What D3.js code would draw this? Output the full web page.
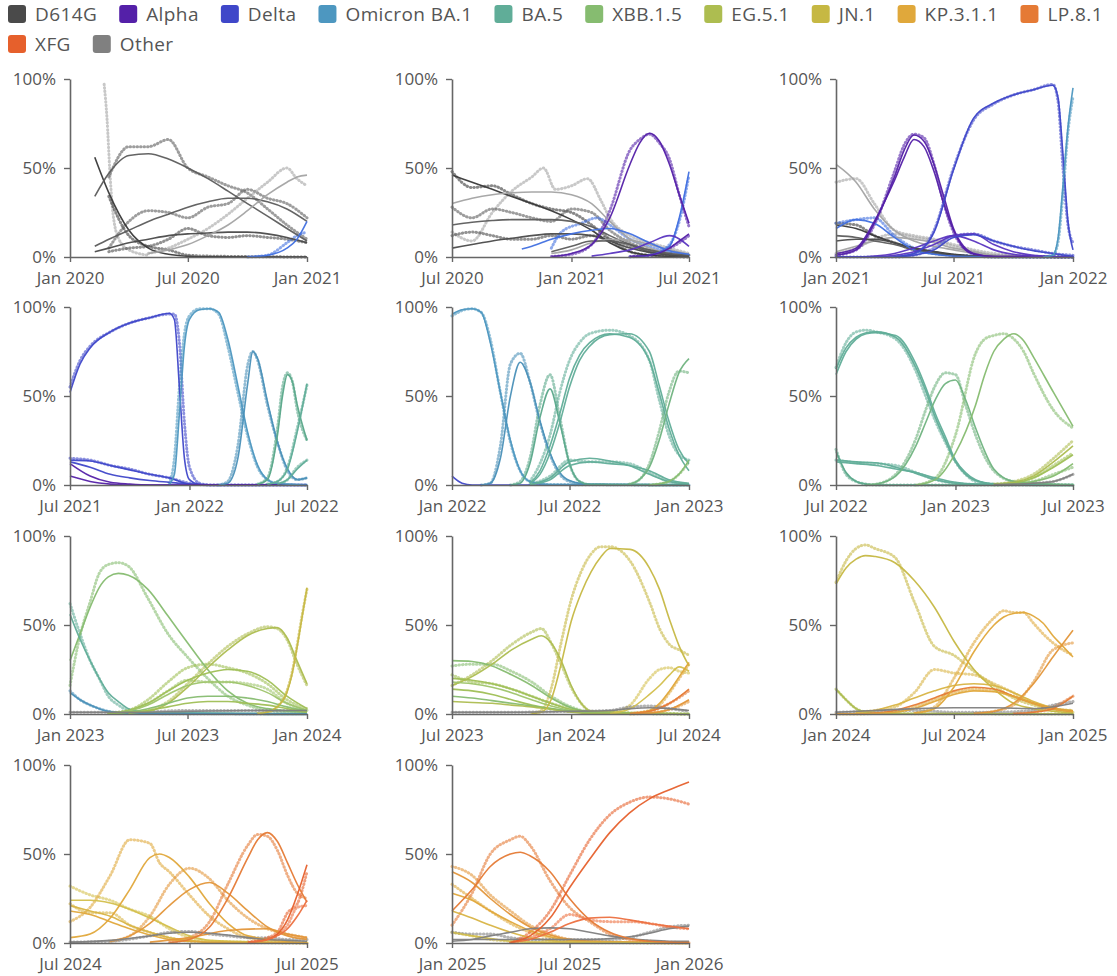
<!DOCTYPE html>
<html><head><meta charset="utf-8">
<script src="https://cdn.jsdelivr.net/npm/d3@7"></script>
<style>
body{margin:0;background:#fff}
svg{display:block}
text{font-family:"Open Sans",sans-serif}
</style>
</head><body>
<svg id="chart" width="1117" height="976"></svg>
<script>
// ---------- legend categories ----------
const lineages = ["D614G","Alpha","Delta","Omicron BA.1","BA.5","XBB.1.5","EG.5.1","JN.1","KP.3.1.1","LP.8.1","XFG","Other"];
const lineageColors = ["#4a4a4a","#5420a8","#3f47c9","#4d97c0","#60ad98","#86bc70","#adbd50","#c6b843","#e0a83b","#e57a35","#e6602c","#808080"];
// sub-lineage shades (same families, slightly different tones)
const shadeNames  = ["D614G-d","Other-d","Other-l","Delta-b","Alpha-b","BA.2","BA.5-g","BQ","XBB-l","EG-b","JN-b","KP.2","XEC","NB"];
const shadeColors = ["#383838","#5c5c5c","#a3a3a3","#4170e0","#5a35c0","#4a90b8","#5aa88a","#70b37f","#9ec46a","#9fbf55","#d3bf4c","#d8b445","#e3963a","#ec7040"];

// ---------- panels (start month, each spans 12 months) ----------
const panelStarts = ["2020-01","2020-07","2021-01","2021-07","2022-01","2022-07","2023-01","2023-07","2024-01","2024-07","2025-01"];
const yTicks = [0, 50, 100];

// series: c = colour key, t = months from panel start (number = first month, step 1),
// f = fitted share (%), o = observed share (%), to = months for o if different
const panel1 = [
  {c:"Other-l", t:[1.75,1.9,2.05,2.2,2.5,3,4], f:null, o:[97,78,48,25,10,4,1]},
  {c:"D614G-d", t:[1.25,2,3,4,5,6,7,12], f:[56,36,15,5,1.5,0.4,0.1,0], o:[null,34,12,6,4,1,0.5,0]},
  {c:"Other-d", t:[1.25,2,3,4,5,6,7,8,9,10,11,12], f:[34,47,57,58,55,50,44,37,30,23,16,9], o:[null,45,62,62,66,50,45,40,36,27,18,10]},
  {c:"Other-d", t:[1.25,2,3,4,5,6,7,8,9,10,11,12], f:[6,10,15,20,24,28,31,33,33,31,27,20], o:[null,5,20,26,25,22,28,30,38,33,30,22]},
  {c:"D614G", t:[1.25,2,3,4,5,6,7,8,9,10,11,12], f:[3,5,8,10,12,13,13.5,14,14,13,11,8], o:[null,3,5,6,10,16,12,11,12,11,10,8]},
  {c:"Other-l", t:[4,5,6,7,8,9,10,11,11.5,12], f:[2,4,7,12,18,26,35,42,45,46], o:[2,5,10,16,24,33,42,50,44,40]},
  {c:"Delta-b", t:[9,10,11,11.5,12], f:[0,1,5,10,20], o:[0,1,8,12,14]}
];
const panel2 = [
  {c:"D614G-d", t:0, f:[46,42,38,34,30,26,21,15,8,3,1,0.3,0], o:[48,39,40,35,30,27,25,18,10,3,1,0.3,0]},
  {c:"Other-l", t:0, f:[30,33,35,36,36.5,36.5,35,30,20,10,5,2,1], to:[0,1,2,3,4,4.6,5.2,6,6.8,7.5,8,9,10,11,12], o:[14,9,25,37,45,50,38,40,44,32,22,12,8,5,2]},
  {c:"Other-d", t:0, f:[18,19.5,20.5,21,21,21,20,17,12,7,3,1.5,0.5], o:[28,22,27,25,22,20,27,25,15,8,4,2,1]},
  {c:"D614G", t:0, f:[5,7,9,10.5,12,13,13,12,9,5,2.5,1,0.5], o:[12,14,12,10,10,12,10,12,10,6,3,2,1]},
  {c:"Other-l", t:[5,6,7,8,9,10,11,12], f:[2,4,8,10,9.5,7,4,1.5]},
  {c:"Other-d", t:[5,6,7,8,9,10,11,12], f:[3,6,9,9,7,4,2,1]},
  {c:"Delta-b", t:[3.5,4,5,6,7,8,9,10,11,12], f:[4.5,6,10,13,15,16,13,8,3.5,1.5], to:[5,5.5,6.5,7.3,8,9,10,11,12], o:[5,14,19,22,18,10,6,3,1]},
  {c:"Delta-b", t:[9,10,11,11.5,12], f:[0,1,6,22,48], o:[0,1,7,20,46]},
  {c:"Alpha", t:[5,6,7,8,9,9.5,10,10.5,11,11.5,12], f:[0.3,2,7,22,52,64,69.5,65,52,35,19], o:[0.3,1.5,7,26,60,66,69,64,55,35,17]},
  {c:"Alpha-b", t:[7,8,9,10,11,12], f:[0.5,2,4,8,12,6]},
  {c:"Alpha", t:[9,10,11,11.5,12], f:[0.3,1,5,9,13], o:[0.3,1,5,8,12]}
];
const panel3 = [
  {c:"Other-l", t:0, f:[52,42,27,15,9,6,4,2,1,0.5,0.2,0,0], o:[42,44,30,15,12,10,7,4,2,1,0.5,0,0]},
  {c:"Other-l", t:0, f:[3,6,9,11,10,8,5,3,1,0.5,0.2,0,0], o:[2,5,10,13,11,9,6,3,1,0.5,0,0,0]},
  {c:"D614G-d", t:0, f:[18,16,12,8,5,3,1.5,0.5,0.2,0,0,0,0], o:[19,18,12,8,4,2,1,0.5,0,0,0,0,0]},
  {c:"Other-d", t:0, f:[12,11,9,7,4,2,1,0.5,0,0,0,0,0]},
  {c:"D614G", t:0, f:[9,10,10,8,5,3,1,0.5,0,0,0,0,0]},
  {c:"Delta-b", t:0, f:[16,21,19,11,4,1.5,0.5,0.2,0,0,0,0,0], o:[19,21,22,12,5,2,1,0.5,0,0,0,0,0]},
  {c:"Alpha", t:[0,1,2,3,3.5,4,4.5,5,5.5,6,6.5,7,8,12], f:[2,5,20,43,56,66,62,48,30,15,5,1.5,0.3,0], o:[1,4,18,48,63,69,67,52,30,14,5,2,0.5,0]},
  {c:"Alpha", t:[0,1,2,3,3.5,4,4.5,5,5.5,6,6.5,7,8,12], f:[1,4,19,45,60,68.5,65,52,34,16,6,2,0.3,0]},
  {c:"Alpha-b", t:0, f:[0,0,0.5,2,5,9,12,9,4,1.5,0.5,0,0]},
  {c:"Alpha-b", t:0, f:[0,0,0,1,3,7,12,13,7,3,1,0.3,0]},
  {c:"Delta", t:0, f:[0,0,0,0,1,4,11,12.5,9,6,3.5,2,0.3], o:[0,0,0,0,1,5,12,13,9,6,4,2,1]},
  {c:"Delta", t:[3,4,5,6,7,8,9,10,11,11.25,11.5,11.75,12], f:[0.3,2,14,49,78,86.5,91,94,96.5,90,58,20,4], o:[0.3,2,15,50,77,86,91,94,97,88,50,18,8]},
  {c:"Omicron BA.1", t:[10.5,11,11.25,11.5,11.75,12], f:[0,1,10,40,73,95], o:[0,1,8,35,70,90]}
];
const panel4 = [
  {c:"Delta", t:[0,0.5,1,2,3,4,5,5.25,5.5,5.75,6,6.5,7,12], f:[52,68,77,86,91,94,96.5,93,55,15,3,0.3,0,0], o:[55,70,78,86,91,94,96,96,80,35,10,1,0,0]},
  {c:"Delta", t:0, f:[14,13.5,11,8.5,6,4,0.5,0,0,0,0,0,0], o:[15,14,11,9,6,4,1,0,0,0,0,0,0]},
  {c:"Delta", t:0, f:[13,10,6,4,2.5,1.5,0.5,0,0,0,0,0,0]},
  {c:"Alpha", t:[0,1,2,3,4,12], f:[12,5,1.5,0.5,0,0]},
  {c:"Alpha", t:[0,1,2,3,12], f:[5,2,0.5,0,0]},
  {c:"Omicron BA.1", t:[5,5.25,5.5,5.75,6,6.5,7,7.5,8,8.5,9,9.5,10,10.5,12], f:[0.5,6,40,78,93,98.5,99,97,82,56,29,11,3,0.8,0], o:[1,15,55,85,95,99,99,96,78,52,27,10,3,0.8,0]},
  {c:"BA.2", t:[7.5,8,8.5,9,9.25,9.5,10,10.5,11,11.5,12], f:[0,1,15,58,75,71,47,24,9,3,4], o:[0,2,22,68,75,70,45,24,8,3,4]},
  {c:"BA.5-g", t:[9.5,10,10.5,10.75,11,11.25,11.5,12], f:[0.5,3,28,50,62,58,45,25], o:[0.5,4,32,55,63,58,42,25]},
  {c:"BA.5", t:[10,10.5,11,11.5,12], f:[0.5,2,9,30,57], o:[0.5,2,10,32,56]},
  {c:"BA.5", t:[10.5,11,11.5,12], f:[0.5,3,9,14], o:[0.5,3,10,14]}
];
const panel5 = [
  {c:"Delta", t:[0,0.5,1,12], f:[5,1,0,0]},
  {c:"Omicron BA.1", t:[0,0.5,1,1.5,2,2.5,3,3.5,4,5,12], f:[96,98.5,99,97,80,52,25,8,2,0.3,0], o:[95,98,99,97,82,52,24,8,2,0.3,0]},
  {c:"BA.2", t:[1.5,2,2.5,3,3.5,4,4.5,5,5.5,6,7,12], f:[0,1,15,50,69,58,36,18,7,2.5,0.3,0], o:[0,1,22,68,74,58,35,17,6,2,0.3,0]},
  {c:"BA.5-g", t:[3,3.5,4,4.5,5,5.5,6,6.5,7,12], f:[0,1,12,38,54,35,12,2,0.3,0], o:[0,2,15,45,62,38,12,2,0.3,0]},
  {c:"BA.5", t:[4,4.5,5,5.5,6,6.5,7,8,9,10,10.5,11,11.5,12], f:[1,8,22,40,60,73,80,85,83,70,52,32,17,8], o:[2,12,28,52,70,80,85,87,84,70,48,28,17,14]},
  {c:"BA.5", t:[4,4.5,5,5.5,6,6.5,7,8,9,10,10.5,11,11.5,12], f:[1,6,18,35,55,70,78,84.5,85,75,56,36,20,12]},
  {c:"BA.5", t:[4,5,6,7,8,9,10,11,12], f:[0.3,4,13,15,13.5,11,6,2,0.5], o:[0.3,5,14,13,13,12,7,2,0.5]},
  {c:"BA.5", t:[4,5,6,7,8,9,10,11,12], f:[0.2,3,11,13,12,11,8,3,1]},
  {c:"BQ", t:[9,9.5,10,10.5,11,11.5,12], f:[0.5,3,10,25,45,63,71], o:[0.5,3,12,30,52,64,63]},
  {c:"XBB.1.5", t:[10,11,11.5,12], f:[0,2,6,14], o:[0,2,6,13]}
];
const panel6 = [
  {c:"BA.5", t:[0,0.5,1,1.5,2,3,4,4.5,5,5.5,6,6.5,7,8,12], f:[65,77,83,85.5,86,83,66,53,38,25,13,6,2.5,0.5,0], o:[66,80,86,87,86,82,64,50,36,24,13,6,2,0.5,0]},
  {c:"BA.5", t:[0,0.5,1,1.5,2,3,4,4.5,5,5.5,6,6.5,7,8,12], f:[62,75,82,85,85.5,84,68,55,40,27,14,7,3,0.7,0]},
  {c:"BA.5-g", t:[0,0.5,1,1.5,2,12], f:[19,7,2,0.5,0,0], o:[20,6,2,0.5,0,0]},
  {c:"BA.5", t:[0,1,2,3,4,5,6,7,12], f:[14,13,12.5,10,6.5,3,1,0.3,0], o:[14,12.5,12,11,7,3,1,0.3,0]},
  {c:"BA.5", t:[0,1,2,3,4,5,6,7,12], f:[13,12,11,9,7,4,1.5,0.5,0]},
  {c:"BQ", t:[1.5,2,3,4,4.5,5,5.5,6,6.5,7,7.5,8,9,12], f:[0,0.5,5,22,35,48,57,59,48,32,19,9,2,0], o:[0,0.5,6,26,42,56,63,62,45,28,16,8,2,0]},
  {c:"XBB.1.5", t:[4,5,6,7,7.5,8,8.5,9,9.5,10,11,12], f:[0,3,18,45,62,75,82,85,81,72,52,33], o:[0,4,28,74,82,84,85,82,75,63,42,32]},
  {c:"EG.5.1", t:[8,9,10,11,12], f:[0.5,1.5,5,13,22], o:[0.5,2,6,15,25]},
  {c:"EG-b", t:[8,9,10,11,12], f:[0.3,1,4,10,17], o:[0.3,1,4,11,18]},
  {c:"XBB.1.5", t:[8,9,10,11,12], f:[0,0.5,2,5,12], o:[0,0.5,2,6,10]},
  {c:"Other", t:[8,9,10,11,12], f:[0.3,0.5,1,2,6], o:[0.3,0.5,1,2,6]}
];
const panel7 = [
  {c:"XBB.1.5", t:[0,0.5,1,1.5,2,2.5,3,4,5,6,7,8,9,10,12], f:[30,45,60,71,77,79,78,70,55,40,25,13,6,3,1], o:[16,44,63,79,84,85,83,65,45,32,20,10,5,2,0.5]},
  {c:"BA.5", t:[0,0.5,1,1.5,2,2.5,3,4,12], f:[56,42,30,20,12,7,3,0.8,0], o:[62,45,30,20,10,5,2,0.5,0]},
  {c:"BA.2", t:[0,0.5,1,1.5,2,3,12], f:[12,8,5,3,1.5,0.3,0], o:[13,8,5,3,1.5,0.3,0]},
  {c:"EG.5.1", t:[3,4,5,6,7,8,9,10,10.5,11,11.5,12], f:[0.5,1.5,6,15,26,36,44,48,48.5,43,30,17], o:[0.5,2,7,17,28,38,45,49,48,42,28,16]},
  {c:"EG-b", t:[2,3,4,5,6,7,8,9,10,11,12], f:[0.5,2,6,13,19,23,25,24,19,10,3], o:[0.5,2,8,18,26,28,26,23,17,8,3]},
  {c:"XBB-l", t:[2,3,4,5,6,7,8,9,10,11,12], f:[0.3,1.5,5,11,16,18,18,16,12,6,2], o:[0.3,2,6,13,19,18,18,17,14,6,2]},
  {c:"XBB.1.5", t:[2,3,4,5,6,7,8,9,10,11,12], f:[0.2,1,3,6,9,10,10,9,7,4,1.5]},
  {c:"EG-b", t:[2,3,4,5,6,7,8,9,10,11,12], f:[0.5,1,2,4,6,7,7,6,5,3,1]},
  {c:"JN.1", t:[9.5,10,10.5,11,11.25,11.5,11.75,12], f:[0.3,1,4,12,22,37,54,71], o:[0.3,1,4,13,23,38,55,70]},
  {c:"Other", t:[0,3,6,9,12], f:[1,1,1.5,2,2], o:[1,1,2,2,2]}
];
const panel8 = [
  {c:"XBB.1.5", t:[0,1,2,3,4,5,6,7,12], f:[30,29.5,27,22,16,9,3.5,1,0], o:[27,28,28,24,18,10,4,1,0]},
  {c:"EG-b", t:[0,1,2,3,4,5,6,7,12], f:[20,19,17,14,10,6,2.5,1,0], o:[22,18,17,14,10,6,3,1,0]},
  {c:"EG.5.1", t:[0,1,2,3,4,4.5,5,5.5,6,6.5,7,12], f:[16,21,28,36,42,44,40,30,16,6,1.5,0], o:[16,22,30,39,46,48,40,28,15,6,1.5,0]},
  {c:"XBB-l", t:[0,1,2,3,4,5,6,7,12], f:[18,17,15,12,8,4.5,2,0.5,0]},
  {c:"EG-b", t:[0,1,2,3,4,5,6,7,12], f:[14,13,11,8,5,3,1.5,0.5,0]},
  {c:"XBB.1.5", t:[0,1,2,3,4,5,6,7,12], f:[10,9,7.5,6,4.5,3,1.5,0.5,0]},
  {c:"EG.5.1", t:[0,1,2,3,4,5,6,7,12], f:[7,6.5,6,5,4,2.5,1,0.3,0]},
  {c:"JN.1", t:[4,4.5,5,5.5,6,6.5,7,7.5,8,9,10,10.5,11,11.5,12], f:[0.3,1,8,28,52,68,80,88,93,92.5,82,70,53,38,27], o:[0.3,2,14,40,64,80,90,94,94,86,63,48,39,36,33]},
  {c:"JN-b", t:[8,9,10,10.5,11,11.5,12], f:[0.3,3,11,16,22,26.5,24], o:[0.5,5,20,25,26,24,23]},
  {c:"KP.3.1.1", t:[9,10,10.5,11,11.5,12], f:[0.3,2,6,13,21,29], o:[0.3,2,5,12,20,28]},
  {c:"LP.8.1", t:[9,10,11,12], f:[0.3,1.5,6,14], o:[0.3,1.5,6,13]},
  {c:"XEC", t:[9,10,11,12], f:[0,0.5,2.5,8], o:[0,0.5,2.5,7]},
  {c:"Other", t:[0,3,6,8,9,10,11,12], f:[1,1,1.5,2,3,3.5,3,2], o:[1,1,1.5,2,4,4.5,3,1.5]}
];
const panel9 = [
  {c:"JN.1", t:[0,0.5,1,1.5,2,3,4,5,6,7,8,9,10,11,12], f:[73,82,87,89,88.5,85,75,60,41,25,14,6,3,1.5,0.5], o:[74,86,93,95,93,88,63,38,33,24,16,9,5,2,1]},
  {c:"EG.5.1", t:[0,0.5,1,1.5,2,12], f:[14,8,3,1,0.3,0], o:[14,8,3,1,0.3,0]},
  {c:"KP.2", t:[1,2,3,4,5,6,7,8,9,10,11,12], f:[1,2,5,9,13,16,17,16,12,7,3.5,2], o:[1,2,4,12,25,23,22,17,12,6,3,2]},
  {c:"LP.8.1", t:0, f:[0,0,0.5,2,5,9,13,15,14,10,6,3,1.5]},
  {c:"KP.3.1.1", t:0, f:[0,0,0.3,1,3,7,11,13,12.5,10,6,3,1.5], o:[0,0,0.3,1,4,8,12,14,13,10,6,3,1.5]},
  {c:"KP.3.1.1", t:[4,5,6,7,8,8.5,9,9.5,10,10.5,11,11.5,12], f:[0.5,3,15,35,50,54.5,56.5,57,55,51,44,38,32], o:[0.5,4,20,40,54,58,57,57,51,45,40,36,33]},
  {c:"XEC", t:[7,8,9,10,11,12], f:[0.3,1.5,6,17,32,47], o:[0.3,1.5,5,18,36,40]},
  {c:"LP.8.1", t:[9,10,11,12], f:[0.2,1,3,10], o:[0.2,1,4,10]},
  {c:"Other", t:[0,2,4,6,8,10,11,12], f:[1,2,3,3.5,3.5,3,4,6], o:[1,1.5,2,1,1,2,5,7]}
];
const panel10 = [
  {c:"JN-b", t:[0,1,2,3,4,5,6,7,12], f:[24,24,22.5,19,14,9,4,1.5,0], o:[32,27,24,19,15,8,3,1,0]},
  {c:"KP.2", t:[0,1,2,3,4,5,6,7,12], f:[21,18,15,10,6,3,1.5,0.5,0], o:[22,17,17,10,6,3,1,0.5,0]},
  {c:"KP.3.1.1", t:[0,1,2,3,4,5,6,7,12], f:[18,16,12,8,4.5,2,1,0.3,0]},
  {c:"KP.3.1.1", t:[0,1,2,3,4,4.5,5,6,7,8,9,12], f:[3,5,14,30,48,50,48,37,22,11,4,0], o:[12,20,38,58,56,45,40,27,15,8,3,0]},
  {c:"XEC", t:[2,3,4,5,6,7,8,9,10,11,12], f:[1,4,11,21,30,34,28,18,9,4,2], o:[1,4,15,33,42,36,24,14,8,5,3]},
  {c:"XEC", t:[4,6,8,10,11,12], f:[0.5,3,7,8,5,3]},
  {c:"Other", t:[0,2,4,5,6,7,8,9,10,11,12], f:[0.5,1.5,4,5.5,6,5.5,4.5,3,2,1.5,1], o:[0.5,1,4,6,6.5,5,4,3,3,2,2]},
  {c:"LP.8.1", t:[5,6,7,8,9,9.5,10,10.5,11,11.5,12], f:[0.3,2,9,25,48,58,62,57,45,33,23], o:[0.3,3,12,33,55,61,60,52,38,28,25]},
  {c:"XFG", t:[9,10,10.5,11,11.5,12], f:[0.5,2,5,13,27,44], o:[0.5,3,6,17,22,40]},
  {c:"NB", t:[9,10,11,11.5,12], f:[0.3,2,8,15,24], o:[0.3,2,10,20,21]}
];
const panel11 = [
  {c:"XEC", t:[0,1,2,3,4,5,6,7,12], f:[40,34,25,16,9,4.5,2,1,0], o:[43,38,27,18,10,5,2,1,0]},
  {c:"KP.3.1.1", t:[0,1,2,3,4,5,6,7,12], f:[28,24,18,12,7,3.5,1.5,0.5,0], o:[33,25,18,11,6,3,1,0.5,0]},
  {c:"KP.2", t:[0,1,2,3,4,5,6,7,12], f:[18,14,10,6,3,1.5,0.5,0.2,0]},
  {c:"JN-b", t:[0,1,2,3,4,12], f:[6,4,2.5,1,0.5,0], o:[6,4,2,1,0.5,0]},
  {c:"Other", t:0, f:[1,2,4,6,8,8.5,8,6,4,2.5,1.5,1,1]},
  {c:"Other", t:0, f:[2,2,2,2,2,2,2,2,2.5,3.5,5.5,8,9.5], o:[6,5,5,3,2,2,2,2,2,3,6,9,10]},
  {c:"LP.8.1", t:[0,1,2,3,3.5,4,5,6,7,8,9,10,12], f:[18,30,43,50,51,49,40,25,13,6,2.5,1,0.2], o:[10,28,50,58,60,55,35,20,12,5,2,1,0.2]},
  {c:"NB", t:[3,4,5,6,7,8,9,10,11,12], f:[0.3,2,6,11,14,14.5,13,11,9.5,8], o:[0.3,3,8,16,13,12,12,11,9,8]},
  {c:"XFG", t:[3,4,5,6,7,8,9,10,11,12], f:[0.3,4,14,31,47,62,73,81,86,90.5], o:[0.3,6,18,38,58,72,79,82,81,78]}
];
const panels = [panel1,panel2,panel3,panel4,panel5,panel6,panel7,panel8,panel9,panel10,panel11];

// ---------- layout ----------
const W = 1117, H = 976;
const colX = [70, 452, 836];
const rowY = [79, 307, 536, 765];
const pw = 237, ph = 178;
const axisColor = "#666", textColor = "#555";

const svg = d3.select("#chart");
const parseM = d3.timeParse("%Y-%m");

function colorOf(k){
  const i = lineages.indexOf(k);
  if (i >= 0) return lineageColors[i];
  return shadeColors[shadeNames.indexOf(k)];
}
function monthToDate(start, m){
  const fl = Math.floor(m);
  const a = d3.timeMonth.offset(start, fl), b = d3.timeMonth.offset(start, fl + 1);
  return new Date(+a + (m - fl) * (b - a));
}
function toPoints(start, t, vals){
  return vals.map((v, i) => ({d: monthToDate(start, Array.isArray(t) ? t[i] : t + i), v}));
}

// ---------- legend ----------
const legend = svg.append("g").attr("class","legend");
let lx = 8, ly = 14;
lineages.forEach((name, i) => {
  const g = legend.append("g");
  const txt = g.append("text").attr("x", 27).attr("y", 0).attr("dy","0.35em")
    .attr("font-size", 19).attr("letter-spacing", "0.4px").attr("fill", textColor).text(name);
  const tw = txt.node().getComputedTextLength();
  const iw = 27 + tw + 22;
  if (lx + 27 + tw > W) { lx = 8; ly += 30; }
  g.attr("transform", `translate(${lx},${ly})`);
  g.insert("rect", "text").attr("x", 0).attr("y", -9).attr("width", 18).attr("height", 18)
    .attr("rx", 3).attr("fill", lineageColors[i]);
  lx += iw;
});

// ---------- panels ----------
panels.forEach((series, pi) => {
  const start = parseM(panelStarts[pi]);
  const end = d3.timeMonth.offset(start, 12);
  const px = colX[pi % 3], py = rowY[Math.floor(pi / 3)];
  const g = svg.append("g").attr("transform", `translate(${px},${py})`);

  const x = d3.scaleTime().domain([start, end]).range([0, pw]);
  const y = d3.scaleLinear().domain([0, 100]).range([ph, 0]);

  const line = d3.line().defined(p => p.v != null)
    .x(p => x(p.d)).y(p => y(p.v)).curve(d3.curveMonotoneX);

  // observed (dotted)
  const obsG = g.append("g");
  series.forEach(s => {
    if (!s.o) return;
    obsG.append("path").datum(toPoints(start, s.to || s.t, s.o))
      .attr("d", line).attr("fill","none").attr("stroke", colorOf(s.c))
      .attr("stroke-width", 3).attr("stroke-linecap","round")
      .attr("stroke-dasharray","0.5 3").attr("opacity", 0.6);
  });
  // fitted (solid)
  const fitG = g.append("g");
  series.forEach(s => {
    if (!s.f) return;
    fitG.append("path").datum(toPoints(start, s.t, s.f))
      .attr("d", line).attr("fill","none").attr("stroke", colorOf(s.c))
      .attr("stroke-width", 1.6).attr("opacity", 0.95);
  });

  // axes
  const ya = g.append("g").call(d3.axisLeft(y).tickValues(yTicks).tickFormat(d => d + "%").tickSize(6).tickSizeOuter(0).tickPadding(8));
  const xa = g.append("g").attr("transform", `translate(0,${ph})`)
    .call(d3.axisBottom(x).tickValues([start, d3.timeMonth.offset(start, 6), end])
      .tickFormat(d3.timeFormat("%b %Y")).tickSize(5).tickSizeOuter(0).tickPadding(10));
  [ya, xa].forEach(a => {
    a.select(".domain").attr("stroke", axisColor).attr("stroke-width", 1.6);
    a.selectAll(".tick line").attr("stroke", axisColor).attr("stroke-width", 1.4);
    a.selectAll(".tick text").attr("fill", textColor).attr("font-size", 17)
      .attr("font-family", "'Open Sans',sans-serif");
  });
});
</script>
</body></html>
